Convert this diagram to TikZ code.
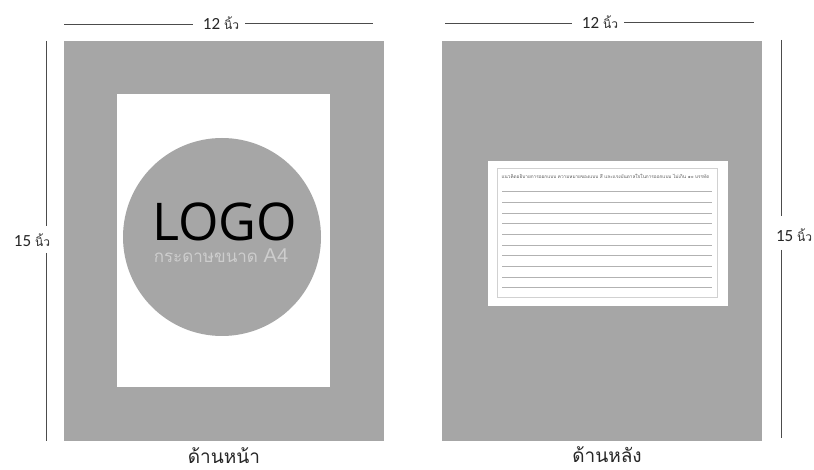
\documentclass[tikz,border=0pt]{standalone}
\usepackage{fontspec}
\usepackage{xcolor}
\usetikzlibrary{positioning}
\setmainfont{Carlito}
\newfontfamily\thaifont[Script=Thai]{Loma}
\newfontfamily\logofont{Open Sans}
\newfontfamily\arialfont{Liberation Sans}
\definecolor{boardgray}{HTML}{A6A6A6}
\definecolor{dimgray}{HTML}{7F7F7F}
\definecolor{paletext}{HTML}{CDCDCD}

\begin{document}
\begin{tikzpicture}[
x=1pt, y=-1pt,
board/.style={rectangle, fill=boardgray, inner sep=0pt, outer sep=0pt, minimum width=320pt, minimum height=400pt},
sheet/.style={rectangle, fill=white, inner sep=0pt, outer sep=0pt},
dimlabel/.style={inner sep=0pt, outer sep=0pt, font=\fontsize{17}{19}\selectfont, text=black!85},
caption/.style={inner sep=0pt, outer sep=0pt, font=\thaifont\fontsize{19}{22}\selectfont, text=black!85},
dimline/.style={draw=black!70, line width=0.8pt},
rowline/.style={draw=black!30, line width=0.5pt}
]
\useasboundingbox (0,0) rectangle (814,470);
\node[board] (front) at (224,241) {};
\node[board, right=58pt of front] (back) {};

% front side
\node[sheet, minimum width=213pt, minimum height=293pt] (a4) at (223.5,240.5) {};
\node[circle, fill=boardgray, inner sep=0pt, outer sep=0pt, minimum size=198pt] (logodisc) at (222,237) {};
\node[inner sep=0pt, font=\logofont\fontsize{52}{56}\selectfont] (logo) at (224.5,222) {LOGO};
\node[inner sep=0pt, text=paletext, font=\thaifont\fontsize{17}{18}\selectfont] (a4label) at (221,256) {กระดาษขนาด {\arialfont\fontsize{20}{20}\selectfont A4}};

% back side
\node[sheet, minimum width=240pt, minimum height=145pt] (card) at (608,233.5) {};
\node[draw=black!18, line width=0.6pt, inner sep=0pt, minimum width=220pt, minimum height=129pt] (frame) at (607,232.5) {};
\node[inner sep=0pt, text=black!65, font=\thaifont\fontsize{4.7}{5}\selectfont] (cardtitle) at (605.5,176) {แนวคิดอธิบายการออกแบบ ความหมายของแบบ สี และแรงบันดาลใจในการออกแบบ ไม่เกิน ๑๐ บรรทัด};
\foreach \y in {191,202,213,223,234,245,255,266,277,287}
  \draw[rowline] (502,\y) -- (712,\y);

% sizes
\node[dimlabel] (topa) at (221,23) {12 {\thaifont\fontsize{12}{14}\selectfont นิ้ว}};
\node[dimlabel] (topb) at (600,22) {12 {\thaifont\fontsize{12}{14}\selectfont นิ้ว}};
\node[dimlabel] (sidea) at (32,240) {15 {\thaifont\fontsize{12}{14}\selectfont นิ้ว}};
\node[dimlabel] (sideb) at (794,235) {15 {\thaifont\fontsize{12}{14}\selectfont นิ้ว}};
\coordinate (ta1) at (64,24);
\coordinate (ta2) at (373,23);
\coordinate (tb1) at (445,23);
\coordinate (tb2) at (754,22);
\coordinate (sa1) at (46,41);
\coordinate (sa2) at (46,441);
\coordinate (sb1) at (781,40);
\coordinate (sb2) at (781,438);
\coordinate (sa3) at (46,226);
\coordinate (sa4) at (46,253);
\coordinate (sb3) at (781,216);
\coordinate (sb4) at (781,250);
\draw[dimline] (ta1) -- ([xshift=-10pt]topa.west |- ta1);
\draw[dimline] ([xshift=6pt]topa.east |- ta2) -- (ta2);
\draw[dimline] (tb1) -- ([xshift=-10pt]topb.west |- tb1);
\draw[dimline] ([xshift=6pt]topb.east |- tb2) -- (tb2);
\draw[dimline] (sa1) -- (sa3);
\draw[dimline] (sa4) -- (sa2);
\draw[dimline] (sb1) -- (sb3);
\draw[dimline] (sb4) -- (sb2);

\node[caption] (fronttext) at (224,456) {ด้านหน้า};
\node[caption] (backtext) at (607,455) {ด้านหลัง};
\end{tikzpicture}
\end{document}
